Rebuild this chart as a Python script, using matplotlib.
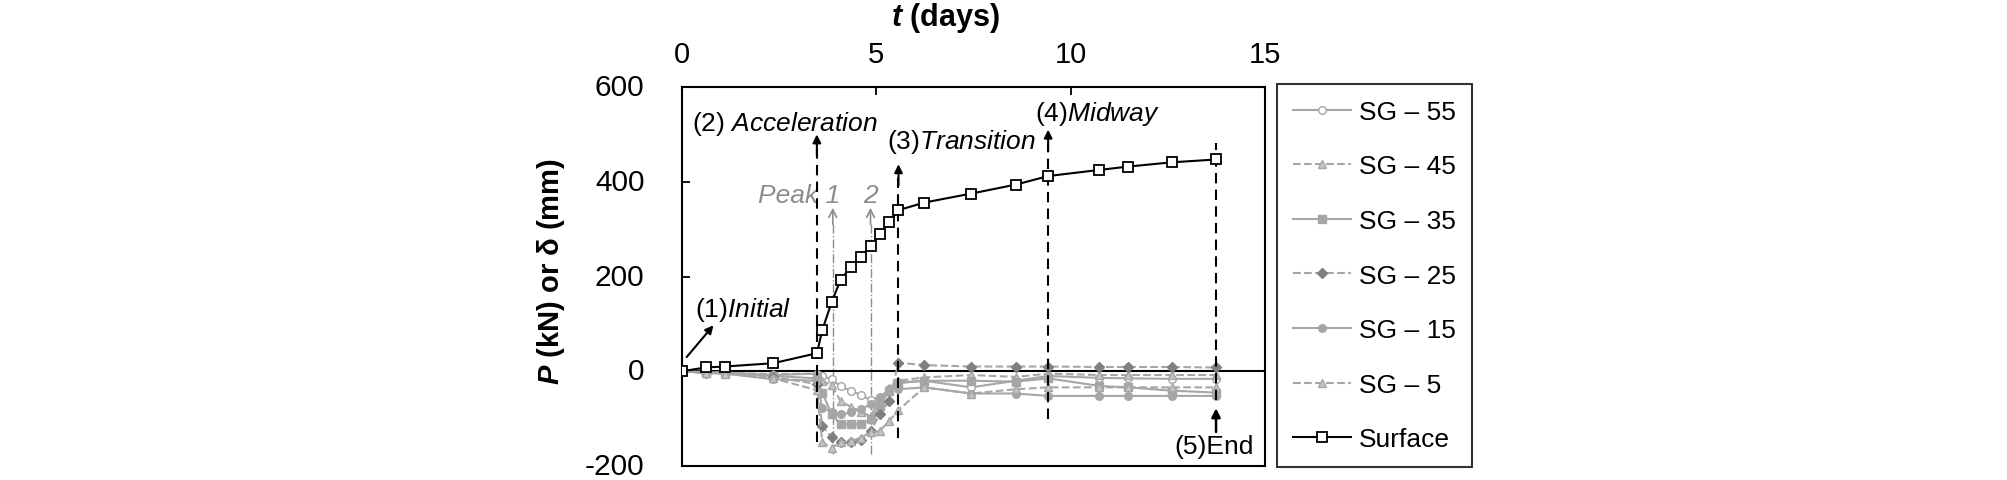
# Load vs. time for the surface and the strain-gauge depths, with the event markers.
import matplotlib

matplotlib.use("Agg")
import matplotlib.pyplot as plt
import matplotlib.transforms as mtransforms
from matplotlib.lines import Line2D

plt.rcParams["font.family"] = ["Liberation Sans", "DejaVu Sans"]
plt.rcParams["mathtext.fontset"] = "custom"
plt.rcParams["mathtext.rm"] = "Liberation Sans"
plt.rcParams["mathtext.it"] = "Liberation Sans:italic"
plt.rcParams["mathtext.bf"] = "Liberation Sans:bold:italic"
plt.rcParams["axes.unicode_minus"] = False

t_days = [0, 0.61, 1.11, 2.35, 3.47, 3.61, 3.85, 4.08, 4.34, 4.60, 4.85,
          5.09, 5.33, 5.57, 6.23, 7.44, 8.59, 9.42, 10.74, 11.48, 12.60, 13.74]
surface = [0, 8, 10, 17, 38, 87, 146, 193, 220, 242, 264,
           289, 315, 340, 356, 375, 394, 412, 425, 432, 441, 447]
sg55 = [0, -2, -3, -8, -5, -10, -17, -32, -41, -50, -60,
        -55, -40, -25, -20, -34, -20, -10, -14, -15, -16, -16]
sg45 = [0, -2, -3, -6, -5, -20, -30, -63, -75, -85, -95,
        -60, -35, -20, -13, -8, -12, -5, -8, -8, -8, -8]
sg35 = [0, -3, -4, -10, -15, -45, -91, -112, -112, -112, -101,
        -73, -41, -24, -20, -20, -22, -15, -31, -34, -41, -45]
sg25 = [0, -3, -4, -12, -27, -116, -139, -150, -150, -145, -126,
        -91, -63, 18, 13, 10, 10, 10, 9, 9, 9, 8]
sg15 = [0, -4, -5, -17, -20, -77, -85, -91, -87, -80, -70,
        -56, -38, -38, -34, -47, -47, -52, -52, -52, -52, -52]
sg5 = [0, -3, -5, -15, -40, -150, -162, -150, -148, -140, -129,
       -126, -105, -82, -34, -47, -38, -34, -34, -34, -34, -34]

# event lines: x, bottom, top
events = [(3.47, -150, 500), (5.57, -140, 437), (9.42, -101, 510)]
end_t = 13.74
peaks = [3.88, 4.85]

GRAY = "#a6a6a6"

fig = plt.figure(figsize=(20.08, 4.81), dpi=100)
ax = fig.add_axes([682 / 2008, 1 - 467 / 481, 583 / 2008, 379 / 481])

sg_styles = [
    ("SG – 55", sg55, "-", "o", "white", GRAY),
    ("SG – 45", sg45, "--", "^", "#c4c4c4", GRAY),
    ("SG – 35", sg35, "-", "s", GRAY, GRAY),
    ("SG – 25", sg25, "--", "D", "#808080", "#808080"),
    ("SG – 15", sg15, "-", "o", GRAY, GRAY),
    ("SG – 5", sg5, "--", "^", "#c4c4c4", GRAY),
]
handles = []
for label, vals, ls, mk, fc, ec in sg_styles:
    ms = 4.6 if mk == "D" else 5.5
    ax.plot(t_days, vals, color=GRAY, ls=ls, lw=1.5, marker=mk, ms=ms,
            mfc=fc, mec=ec, mew=1.0, zorder=3)
    handles.append(Line2D([], [], color=GRAY, ls=ls, lw=1.5, marker=mk, ms=ms,
                          mfc=fc, mec=ec, mew=1.0, label=label))

ax.plot(t_days, surface, color="black", lw=1.5, marker="s", ms=7,
        mfc="white", mec="black", mew=1.3, zorder=6)
handles.append(Line2D([], [], color="black", lw=1.5, marker="s", ms=7,
                      mfc="white", mec="black", mew=1.3, label="Surface"))

ax.axhline(0, color="black", lw=1.5, zorder=2)

# event dashed lines with arrows on top
for x, lo, hi in events:
    ax.plot([x, x], [lo, hi - 30], color="black", ls=(0, (5, 3)), lw=1.5, zorder=4)
    ax.annotate("", xy=(x, hi), xytext=(x, hi - 45),
                arrowprops=dict(arrowstyle="-|>", color="black", lw=1.5,
                                mutation_scale=12, shrinkA=0, shrinkB=0))
ax.plot([end_t, end_t], [-60, 482], color="black", ls=(0, (5, 3)), lw=1.5, zorder=4)
ax.annotate("", xy=(end_t, -78), xytext=(end_t, -128),
            arrowprops=dict(arrowstyle="-|>", color="black", lw=1.8,
                            mutation_scale=13, shrinkA=0, shrinkB=0))

# peak lines
for x in peaks:
    ax.plot([x, x], [-175, 315], color="#8c8c8c", ls="-.", lw=1.0, zorder=2)
    ax.annotate("", xy=(x, 345), xytext=(x, 310),
                arrowprops=dict(arrowstyle="->", color="#8c8c8c", lw=1.2,
                                mutation_scale=14, shrinkA=0, shrinkB=0))

ax.annotate("", xy=(0.81, 97), xytext=(0.12, 30),
            arrowprops=dict(arrowstyle="-|>", color="black", lw=1.5,
                            mutation_scale=12, shrinkA=0, shrinkB=0))

fs = 19
ax.text(0.25, 525, r"(2) $\mathit{Acceleration}$", fontsize=fs, va="center", ha="left")
ax.text(5.27, 487, r"(3)$\mathit{Transition}$", fontsize=fs, va="center", ha="left")
ax.text(9.08, 546, r"(4)$\mathit{Midway}$", fontsize=fs, va="center", ha="left")
ax.text(0.33, 131, r"(1)$\mathit{Initial}$", fontsize=fs, va="center", ha="left")
ax.text(14.7, -158, "(5)End", fontsize=fs, va="center", ha="right")
ax.text(4.07, 373, "Peak 1", fontsize=fs, color="#8c8c8c", style="italic",
        va="center", ha="right")
ax.text(4.85, 373, "2", fontsize=fs, color="#8c8c8c", style="italic",
        va="center", ha="center")

ax.set_xlim(0, 15)
ax.set_ylim(-200, 600)
ax.set_xticks([0, 5, 10, 15])
ax.set_yticks([-200, 0, 200, 400, 600])
ax.xaxis.tick_top()
ax.xaxis.set_label_position("top")
ax.tick_params(axis="both", direction="in", length=6, width=1.3, labelsize=21)
ax.tick_params(axis="y", labelsize=21.5, pad=27)
ax.tick_params(axis="x", pad=14)
for sp in ax.spines.values():
    sp.set_linewidth(1.5)

# nudge the y tick labels up a little so "-200" stays inside the figure
nudge = mtransforms.ScaledTranslation(0, 3 / 100, fig.dpi_scale_trans)
for lab in ax.get_yticklabels():
    lab.set_transform(lab.get_transform() + nudge)

ax.set_xlabel(r"$\mathbf{t}$ (days)", fontsize=22, fontweight="bold")
ax.xaxis.set_label_coords((945 - 682) / 583, (467 - 18) / 379)
ax.xaxis.label.set_verticalalignment("center")
ax.set_ylabel(r"$\mathbf{P}$ (kN) or δ (mm)", fontsize=21, fontweight="bold")
ax.yaxis.set_label_coords((551 - 682) / 583, (467 - 272) / 379)
ax.yaxis.label.set_verticalalignment("center")

leg = fig.legend(handles=handles, loc="upper left",
                 bbox_to_anchor=(1277 / 2008, 1 - 85 / 481), borderaxespad=0,
                 fontsize=19, frameon=True, fancybox=False, edgecolor="black",
                 handlelength=2.2, handletextpad=0.3, labelspacing=1.16,
                 borderpad=0.6)
leg.get_frame().set_linewidth(1.5)

fig.savefig("out.png", dpi=100)
